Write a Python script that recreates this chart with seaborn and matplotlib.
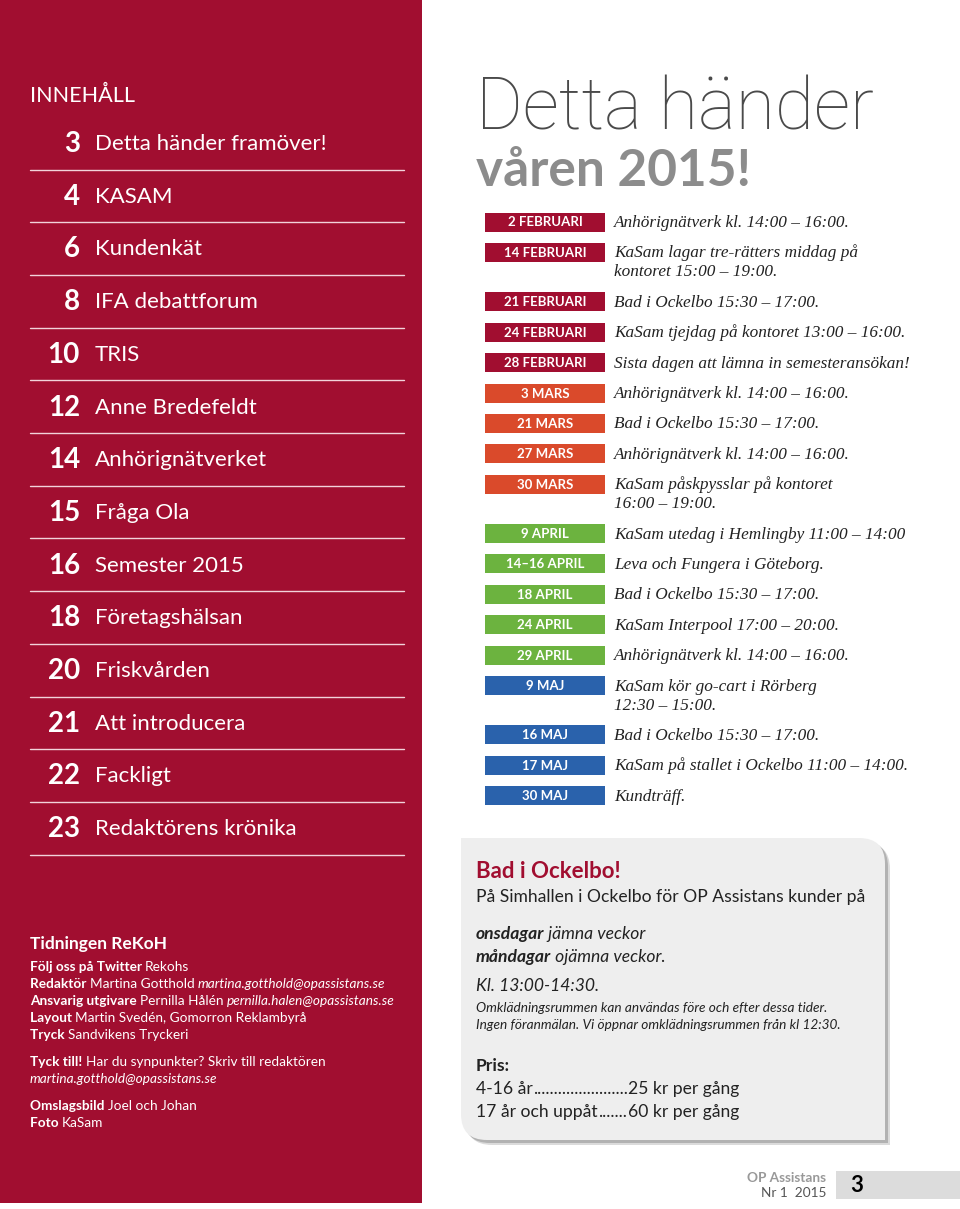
import matplotlib
matplotlib.use('Agg')
import matplotlib.pyplot as plt
import seaborn as sns
import pandas as pd
from matplotlib.patches import Rectangle, PathPatch
from matplotlib.path import Path

sns.set_theme(style='white')
plt.rcParams['font.family'] = ['Lato', 'DejaVu Sans']

# ---------------- data ----------------
toc_pages = [3, 4, 6, 8, 10, 12, 14, 15, 16, 18, 20, 21, 22, 23]
toc_titles = ['Detta händer framöver!', 'KASAM', 'Kundenkät', 'IFA debattforum', 'TRIS',
              'Anne Bredefeldt', 'Anhörignätverket', 'Fråga Ola', 'Semester 2015',
              'Företagshälsan', 'Friskvården', 'Att introducera', 'Fackligt',
              'Redaktörens krönika']

event_dates = ['2 FEBRUARI', '14 FEBRUARI', '21 FEBRUARI', '24 FEBRUARI', '28 FEBRUARI',
               '3 MARS', '21 MARS', '27 MARS', '30 MARS',
               '9 APRIL', '14–16 APRIL', '18 APRIL', '24 APRIL', '29 APRIL',
               '9 MAJ', '16 MAJ', '17 MAJ', '30 MAJ']
event_months = ['Februari'] * 5 + ['Mars'] * 4 + ['April'] * 5 + ['Maj'] * 4
event_texts = ['Anhörignätverk kl. 14:00 – 16:00.',
               'KaSam lagar tre-rätters middag på\nkontoret 15:00 – 19:00.',
               'Bad i Ockelbo 15:30 – 17:00.',
               'KaSam tjejdag på kontoret 13:00 – 16:00.',
               'Sista dagen att lämna in semesteransökan!',
               'Anhörignätverk kl. 14:00 – 16:00.',
               'Bad i Ockelbo 15:30 – 17:00.',
               'Anhörignätverk kl. 14:00 – 16:00.',
               'KaSam påskpysslar på kontoret\n16:00 – 19:00.',
               'KaSam utedag i Hemlingby 11:00 – 14:00',
               'Leva och Fungera i Göteborg.',
               'Bad i Ockelbo 15:30 – 17:00.',
               'KaSam Interpool 17:00 – 20:00.',
               'Anhörignätverk kl. 14:00 – 16:00.',
               'KaSam kör go-cart i Rörberg\n12:30 – 15:00.',
               'Bad i Ockelbo 15:30 – 17:00.',
               'KaSam på stallet i Ockelbo 11:00 – 14:00.',
               'Kundträff.']
month_colors = {'Februari': '#A10E30', 'Mars': '#DA4A2B', 'April': '#6CB33F', 'Maj': '#2A62AC'}

credits = [
    [('Följ oss på Twitter ', 'bold', 'normal'), ('Rekohs', 'normal', 'normal')],
    [('Redaktör ', 'bold', 'normal'), ('Martina Gotthold ', 'normal', 'normal'),
     ('martina.gotthold@opassistans.se', 'normal', 'italic')],
    [('Ansvarig utgivare ', 'bold', 'normal'), ('Pernilla Hålén ', 'normal', 'normal'),
     ('pernilla.halen@opassistans.se', 'normal', 'italic')],
    [('Layout ', 'bold', 'normal'), ('Martin Svedén, Gomorron Reklambyrå', 'normal', 'normal')],
    [('Tryck ', 'bold', 'normal'), ('Sandvikens Tryckeri', 'normal', 'normal')],
]
credits2 = [
    [('Tyck till! ', 'bold', 'normal'), ('Har du synpunkter? Skriv till redaktören', 'normal', 'normal')],
    [('martina.gotthold@opassistans.se', 'normal', 'italic')],
]
credits3 = [
    [('Omslagsbild ', 'bold', 'normal'), ('Joel och Johan', 'normal', 'normal')],
    [('Foto ', 'bold', 'normal'), ('KaSam', 'normal', 'normal')],
]
price_groups = ['4-16 år', '17 år och uppåt']
price_values = [25, 60]

RED = '#A10E30'

# ---------------- figure ----------------
fig = plt.figure(figsize=(9.6, 12.09), dpi=100)
fig.patch.set_facecolor('white')
ax = fig.add_axes([0, 0, 1, 1])
ax.set_xlim(0, 960)
ax.set_ylim(1209, 0)
ax.axis('off')
renderer = fig.canvas.get_renderer()


def rich(x, y, parts, size, color, va='center'):
    for txt, weight, style in parts:
        t = ax.text(x, y, txt, fontsize=size, color=color, fontweight=weight,
                    fontstyle=style, va=va, ha='left')
        bb = t.get_window_extent(renderer=renderer)
        x += bb.width


# left red panel
ax.add_patch(Rectangle((0, 0), 422, 1203, color=RED, lw=0))
ax.text(30, 96, 'INNEHÅLL', color='white', fontsize=15.5, va='center', ha='left')
for i, (p, t) in enumerate(zip(toc_pages, toc_titles)):
    y = 144 + i * 52.7
    ax.text(80, y, str(p), color='white', fontsize=20, fontweight='bold', ha='right', va='center')
    ax.text(95, y, t, color='white', fontsize=16, ha='left', va='center')
    ax.plot([30, 404], [y + 25.5, y + 25.5], color='#F2D3DA', lw=1)

ax.text(30, 944, 'Tidningen ReKoH', color='white', fontsize=12.5, fontweight='bold', va='center')
for k, parts in enumerate(credits):
    rich(30, 967 + k * 17, parts, 9.8, 'white')
for k, parts in enumerate(credits2):
    rich(30, 1062 + k * 17, parts, 9.8, 'white')
for k, parts in enumerate(credits3):
    rich(30, 1106 + k * 17, parts, 9.8, 'white')

# title
ax.text(476, 130, 'Detta händer', color='#4A4A4A', fontsize=51.5,
        family=['Roboto', 'Lato', 'DejaVu Sans'], fontweight='light',
        ha='left', va='baseline')
ax.text(476, 186, 'våren 2015!', color='#8C8C8C', fontsize=37, fontweight='bold',
        ha='left', va='baseline')

# schedule rows
ypos = []
cur = 222.0
for txt in event_texts:
    ypos.append(cur)
    cur += 30.4 + 19 * txt.count('\n')

df = pd.DataFrame({'date': event_dates, 'month': event_months, 'text': event_texts,
                   'ypos': ypos, 'span': [1.0] * len(ypos)})

axb = fig.add_axes([485 / 960, 1 - 830 / 1209, 120 / 960, (830 - 200) / 1209])
sns.barplot(data=df, x='span', y='ypos', hue='month', palette=month_colors, orient='h',
            native_scale=True, width=19 / 30.4, dodge=False, legend=False,
            errorbar=None, saturation=1, linewidth=0, ax=axb)
axb.set_xlim(0, 1)
axb.set_ylim(830, 200)
axb.axis('off')
for d, y in zip(df['date'], df['ypos']):
    axb.text(0.5, y + 0.5, d, color='white', fontsize=9.5, fontweight='bold', ha='center', va='center')

for txt, y in zip(df['text'], df['ypos']):
    for k, line in enumerate(txt.split('\n')):
        ax.text(614, y + 5 + 19 * k, line, family=['Liberation Serif', 'DejaVu Serif'],
                fontstyle='italic', fontsize=12.4, color='#222222', ha='left', va='baseline')

# info box
def box_path(x0, y0, x1, y1, r):
    verts = [(x0, y0), (x1 - r, y0), (x1, y0), (x1, y0 + r), (x1, y1), (x0 + r, y1),
             (x0, y1), (x0, y1 - r), (x0, y0)]
    codes = [Path.MOVETO, Path.LINETO, Path.CURVE3, Path.CURVE3, Path.LINETO, Path.LINETO,
             Path.CURVE3, Path.CURVE3, Path.CLOSEPOLY]
    return Path(verts, codes)

for off, col, a in [(5, '#9A9A9A', 0.35), (3, '#8A8A8A', 0.5)]:
    ax.add_patch(PathPatch(box_path(461 + off, 838 + off, 885 + off, 1140 + off, 26),
                           facecolor=col, edgecolor='none', alpha=a))
ax.add_patch(PathPatch(box_path(461, 838, 885, 1140, 26), facecolor='#EEEEEE', edgecolor='none'))

ax.text(476, 872, 'Bad i Ockelbo!', color=RED, fontsize=16, fontweight='bold', va='center')
ax.text(476, 897, 'På Simhallen i Ockelbo för OP Assistans kunder på', color='#222222',
        fontsize=12.6, va='center')
rich(476, 934, [('onsdagar', 'bold', 'italic'), (' jämna veckor', 'normal', 'italic')], 12.6, '#222222')
rich(476, 957, [('måndagar', 'bold', 'italic'), (' ojämna veckor.', 'normal', 'italic')], 12.6, '#222222')
ax.text(476, 986, 'Kl. 13:00-14:30.', color='#222222', fontsize=12.6, fontstyle='italic', va='center')
ax.text(476, 1008, 'Omklädningsrummen kan användas före och efter dessa tider.', color='#222222',
        fontsize=9.8, fontstyle='italic', va='center')
ax.text(476, 1025, 'Ingen föranmälan. Vi öppnar omklädningsrummen från kl 12:30.', color='#222222',
        fontsize=9.8, fontstyle='italic', va='center')
ax.text(476, 1066, 'Pris:', color='#222222', fontsize=12.6, fontweight='bold', va='center')
for k, (g, v) in enumerate(zip(price_groups, price_values)):
    y = 1089 + k * 23
    t = ax.text(476, y, g, color='#222222', fontsize=12.6, va='center')
    w = t.get_window_extent(renderer=renderer).width
    dot = ax.text(0, 0, '.', fontsize=12.6)
    dw = dot.get_window_extent(renderer=renderer).width
    dot.remove()
    n = max(int(round((627 - 476 - w) / dw)), 1)
    ax.text(476 + w, y, '.' * n, color='#222222', fontsize=12.6, va='center')
    ax.text(628, y, f'{v} kr per gång', color='#222222', fontsize=12.6, va='center')

# footer
ax.add_patch(Rectangle((836, 1171), 124, 28, color='#DCDCDC', lw=0))
ax.text(850, 1186, '3', color='black', fontsize=16, fontweight='bold', va='center', ha='left')
ax.text(826, 1178, 'OP Assistans', color='#999999', fontsize=9.8, fontweight='bold',
        va='center', ha='right')
ax.text(826, 1193, 'Nr 1  2015', color='#555555', fontsize=9.8, va='center', ha='right')

fig.savefig('out.png', dpi=100, facecolor='white')
